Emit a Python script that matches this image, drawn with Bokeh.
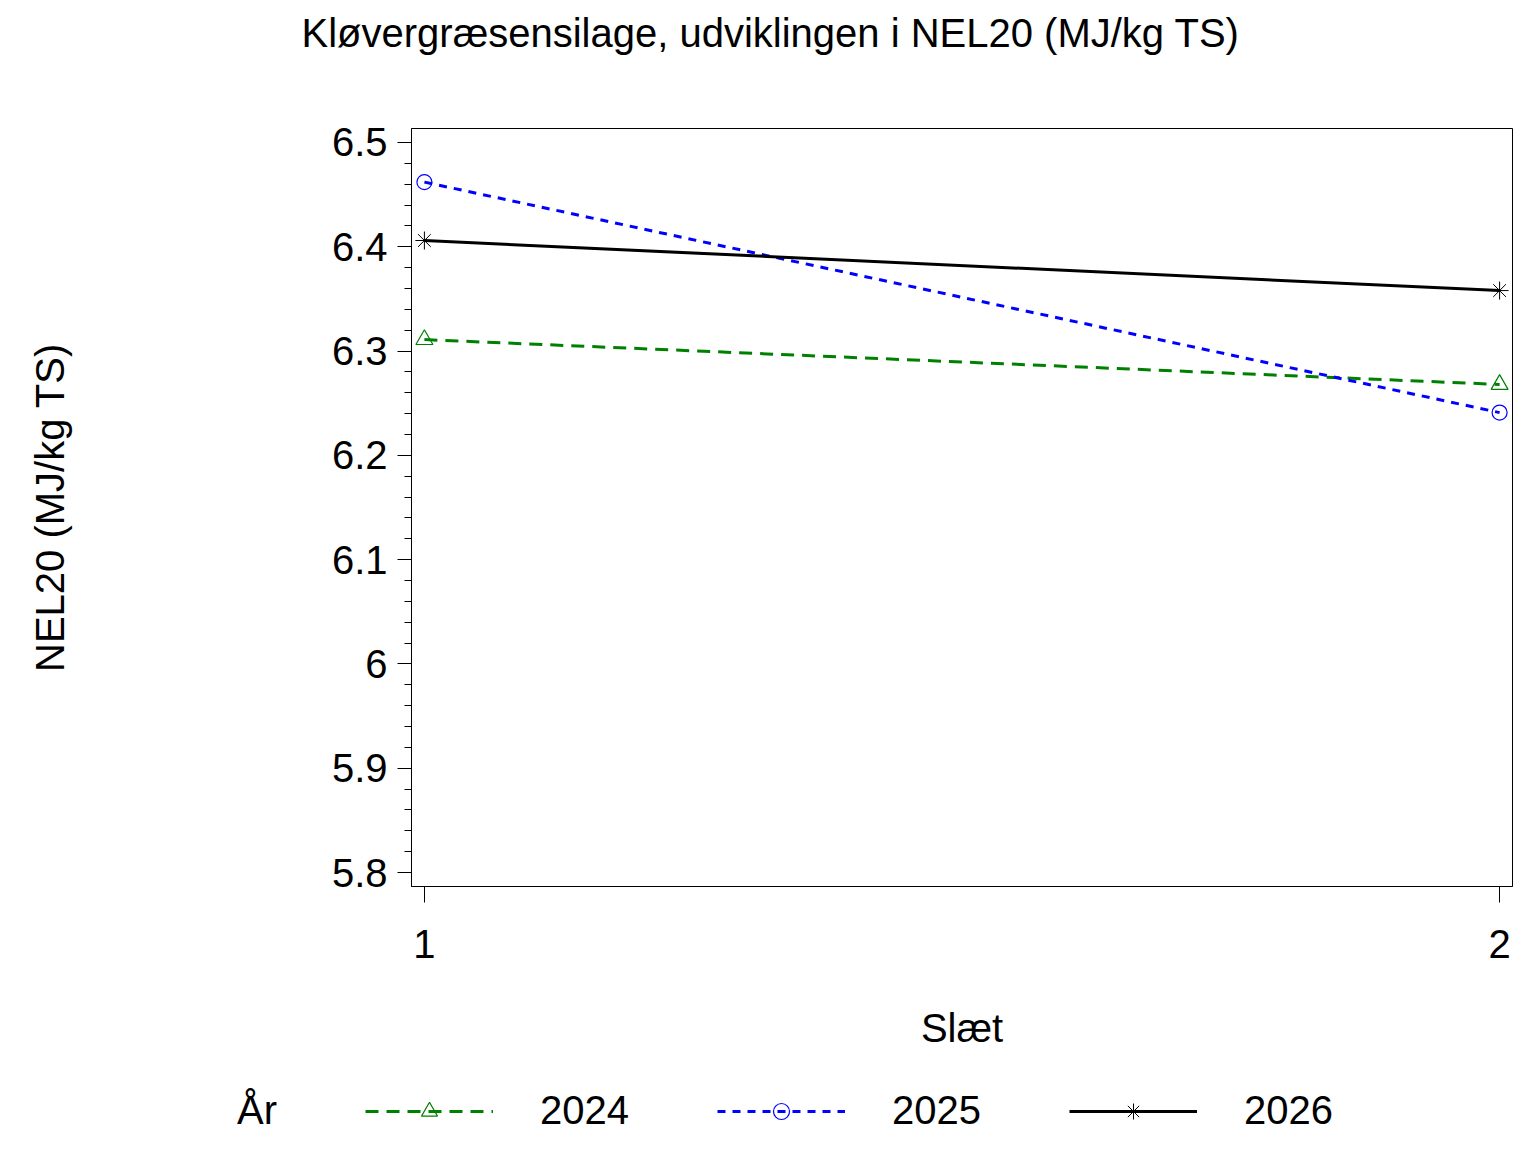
from bokeh.plotting import figure
from bokeh.layouts import column
from bokeh.models import (Range1d, FixedTicker, CustomJSTickFormatter, Legend,
                          LegendItem, Title)
from bokeh.embed import file_html
from bokeh.resources import INLINE

# ---- data ----
slaet = [1, 2]
nel_2024 = [6.311, 6.268]
nel_2025 = [6.462, 6.241]
nel_2026 = [6.406, 6.358]
years = ["2024", "2025", "2026"]
y_ticks = [5.8, 5.9, 6.0, 6.1, 6.2, 6.3, 6.4, 6.5]
x_ticks = [1, 2]

title_text = "Kløvergræsensilage, udviklingen i NEL20 (MJ/kg TS)"
x_label = "Slæt"
y_label = "NEL20 (MJ/kg TS)"
legend_title = "År"

FONT = "Liberation Sans"
FS = "40px"
W = 1520
TITLE_H = 70
LEG_H = 56
MAIN_H = 1136 - TITLE_H - LEG_H

GREEN, BLUE, BLACK = "#008000", "#0000ff", "#000000"
styles = [
    dict(color=GREEN, dash="13 8", marker="triangle", size=17, mlw=1.2),
    dict(color=BLUE, dash="8 7", marker="circle", size=15, mlw=1.2),
    dict(color=BLACK, dash="solid", marker="asterisk", size=18, mlw=1.0),
]
series = [nel_2024, nel_2025, nel_2026]


def helper(height, x_range=None):
    f = figure(width=W, height=height, output_backend="svg", toolbar_location=None,
               title=None, x_axis_location=None, y_axis_location=None,
               x_range=x_range or Range1d(0, 1), y_range=Range1d(0, 1),
               min_border=0)
    f.outline_line_color = None
    f.xgrid.visible = False
    f.ygrid.visible = False
    f.background_fill_color = "white"
    f.border_fill_color = "white"
    return f


# ---- title strip ----
tf = helper(TITLE_H)
tf.add_layout(Title(text=title_text, align="left", offset=-110, standoff=17,
                    text_font=FONT, text_font_size=FS, text_font_style="normal",
                    text_color="black"), "above")

# ---- main plot ----
p = figure(width=W, height=MAIN_H, output_backend="svg", toolbar_location=None,
           title=None,
           x_range=Range1d(0.988, 2.012), y_range=Range1d(5.7866, 6.5134),
           min_border_left=411, min_border_right=8, min_border_top=128 - TITLE_H,
           min_border_bottom=(TITLE_H + MAIN_H) - 886)
p.background_fill_color = "white"
p.border_fill_color = "white"
p.outline_line_color = "black"
p.outline_line_width = 1
p.xgrid.visible = False
p.ygrid.visible = False

minor = [round(5.78 + 0.02 * i, 2) for i in range(0, 37)]
p.yaxis.ticker = FixedTicker(ticks=y_ticks, minor_ticks=minor)
p.yaxis.formatter = CustomJSTickFormatter(code="return String(Number(tick.toFixed(1)))")
p.xaxis.ticker = FixedTicker(ticks=x_ticks, minor_ticks=[])

for ax in (p.xaxis[0], p.yaxis[0]):
    ax.major_label_text_font = FONT
    ax.major_label_text_font_size = FS
    ax.major_label_text_color = "black"
    ax.axis_label_text_font = FONT
    ax.axis_label_text_font_size = FS
    ax.axis_label_text_font_style = "normal"
    ax.axis_label_text_color = "black"
    ax.axis_line_color = "black"
    ax.major_tick_line_color = "black"
    ax.minor_tick_line_color = "black"
    ax.major_tick_in = 0
    ax.minor_tick_in = 0

p.yaxis.major_tick_out = 14
p.yaxis.minor_tick_out = 7
p.yaxis.major_label_standoff = 10
p.yaxis.axis_label = y_label
p.yaxis.axis_label_standoff = 257

p.xaxis.major_tick_out = 16
p.xaxis.minor_tick_out = 0
p.xaxis.major_label_standoff = 27
p.xaxis.axis_label = x_label
p.xaxis.axis_label_standoff = 45

for vals, st in zip(series, styles):
    p.line(slaet, vals, line_color=st["color"], line_width=3, line_dash=st["dash"])
    p.scatter(slaet, vals, marker=st["marker"], size=st["size"], fill_color=None,
              line_color=st["color"], line_width=st["mlw"])

# ---- legend strip: same series, drawn outside this strip's view, so only the
#      legend samples show ----
lf = helper(LEG_H, x_range=Range1d(100, 101))
if hasattr(lf, "frame_align"):
    lf.frame_align = False
items = []
head = lf.line([], [], line_alpha=0)
items.append(LegendItem(label=legend_title, renderers=[head]))
for label, vals, st in zip(years, series, styles):
    lr = lf.line(slaet, vals, line_color=st["color"], line_width=3, line_dash=st["dash"])
    mr = lf.scatter(slaet, vals, marker=st["marker"], size=st["size"], fill_color=None,
                    line_color=st["color"], line_width=st["mlw"])
    items.append(LegendItem(label=label, renderers=[lr, mr]))

legend = Legend(items=items, orientation="horizontal", nrows=1,
                location=(62, 3),
                label_text_font=FONT, label_text_font_size=FS,
                label_text_color="black",
                glyph_width=128, glyph_height=40, label_height=40,
                label_standoff=47, spacing=88, padding=0, margin=0,
                border_line_color=None, background_fill_alpha=0)
lf.add_layout(legend, "center")

layout = column(tf, p, lf, spacing=0)
open("out.html", "w").write(file_html(layout, INLINE))
